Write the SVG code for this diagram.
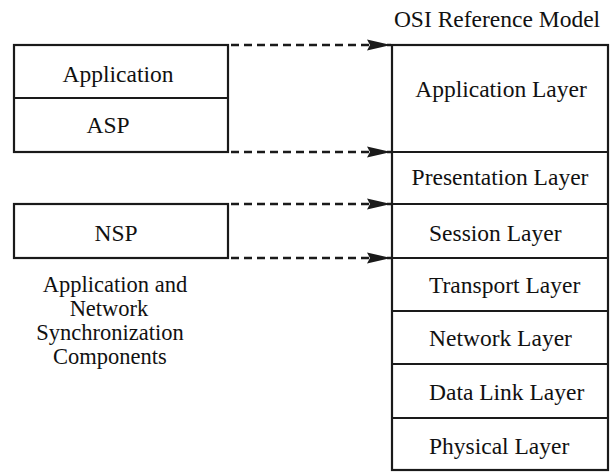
<svg xmlns="http://www.w3.org/2000/svg" width="613" height="472" viewBox="0 0 613 472">
<style>
  .box { fill: none; stroke: #1a1a1a; stroke-width: 2.2; }
  .t { font-family: "Liberation Serif", "Times New Roman", serif; font-size: 23.5px; fill: #111; }
  .cap { font-size: 22.5px; }
  .c { text-anchor: middle; }
  .s { text-anchor: start; }
  .dash { fill: none; stroke: #1a1a1a; stroke-width: 2.6; stroke-dasharray: 8 5; }
</style>
<defs>
  <marker id="ah" viewBox="0 0 24 12" refX="24" refY="6" markerWidth="24" markerHeight="12" markerUnits="userSpaceOnUse" orient="auto">
    <path d="M0,0.5 L24,6 L0,11.5 L3,6 Z" fill="#1a1a1a"/>
  </marker>
</defs>
<rect width="613" height="472" fill="#fff"/>

<g id="asp-stack">
  <rect class="box" x="14" y="45" width="214" height="107"/>
  <line class="box" x1="14" y1="98" x2="228" y2="98"/>
  <text class="t c" x="118" y="82">Application</text>
  <text class="t c" x="108" y="133">ASP</text>
</g>

<g id="nsp">
  <rect class="box" x="14" y="204" width="214" height="54"/>
  <text class="t c" x="116" y="241">NSP</text>
</g>

<g id="caption">
  <text class="t cap c" x="115" y="292">Application and</text>
  <text class="t cap c" x="109" y="316">Network</text>
  <text class="t cap c" x="110" y="340">Synchronization</text>
  <text class="t cap c" x="110" y="364">Components</text>
</g>

<g id="osi">
  <text class="t c" x="497" y="27">OSI Reference Model</text>
  <rect class="box" x="392" y="45" width="216" height="425"/>
  <line class="box" x1="392" y1="152" x2="608" y2="152"/>
  <line class="box" x1="392" y1="204" x2="608" y2="204"/>
  <line class="box" x1="392" y1="258" x2="608" y2="258"/>
  <line class="box" x1="392" y1="311" x2="608" y2="311"/>
  <line class="box" x1="392" y1="364" x2="608" y2="364"/>
  <line class="box" x1="392" y1="418" x2="608" y2="418"/>
  <text class="t c" x="501" y="97">Application  Layer</text>
  <text class="t c" x="500" y="185">Presentation Layer</text>
  <text class="t s" x="429" y="241">Session Layer</text>
  <text class="t s" x="429" y="293">Transport Layer</text>
  <text class="t s" x="429" y="346">Network Layer</text>
  <text class="t s" x="429" y="400">Data Link Layer</text>
  <text class="t s" x="429" y="454">Physical Layer</text>
</g>

<g id="connectors">
  <line class="dash" x1="231" y1="45" x2="391" y2="45" marker-end="url(#ah)"/>
  <line class="dash" x1="231" y1="152" x2="391" y2="152" marker-end="url(#ah)"/>
  <line class="dash" x1="231" y1="204" x2="391" y2="204" marker-end="url(#ah)"/>
  <line class="dash" x1="231" y1="258" x2="391" y2="258" marker-end="url(#ah)"/>
</g>
</svg>
